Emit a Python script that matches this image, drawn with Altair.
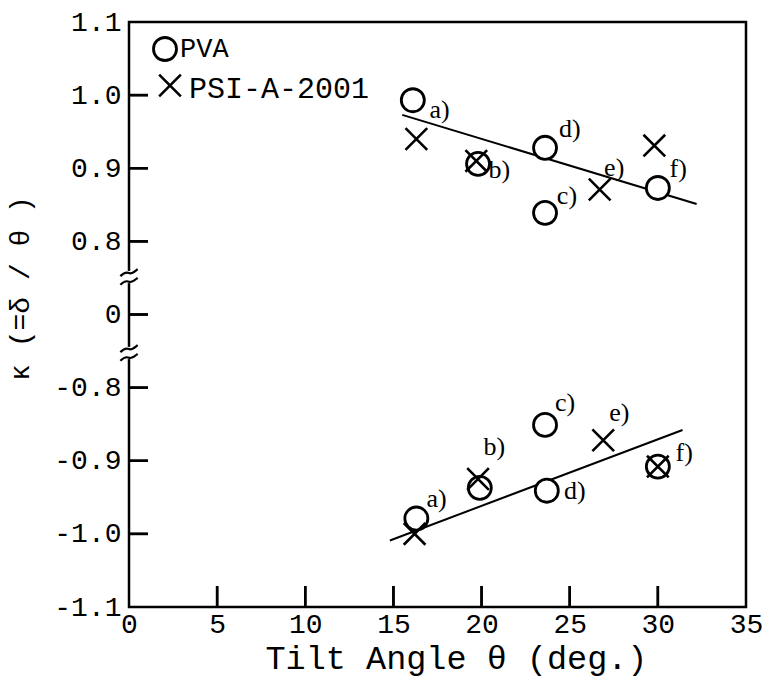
import altair as alt
import pandas as pd

# ---------------- data ----------------
# upper branch (kappa > 0)
pva_up_x = [16.1, 19.8, 23.6, 23.6, 30.0]
pva_up_k = [0.993, 0.906, 0.839, 0.928, 0.873]
psi_up_x = [16.3, 19.7, 26.7, 29.8]
psi_up_k = [0.940, 0.910, 0.871, 0.931]
# lower branch (kappa < 0)
pva_lo_x = [16.3, 19.9, 23.6, 23.7, 30.0]
pva_lo_k = [-0.979, -0.937, -0.851, -0.941, -0.908]
psi_lo_x = [16.2, 19.8, 26.9, 30.0]
psi_lo_k = [-1.0, -0.925, -0.872, -0.908]

# fitted straight lines
fit_up_x = [15.5, 32.2]
fit_up_k = [0.973, 0.851]
fit_lo_x = [14.8, 31.4]
fit_lo_k = [-1.009, -0.858]

# point annotations
label_text = ["a)", "b)", "c)", "d)", "e)", "f)"]
label_up_x = [17.04, 20.4, 24.27, 24.39, 26.95, 30.66]
label_up_k = [0.979, 0.898, 0.862, 0.953, 0.900, 0.899]
label_lo_x = [16.87, 20.11, 24.16, 24.67, 27.24, 31.0]
label_lo_k = [-0.952, -0.881, -0.821, -0.941, -0.835, -0.889]

# axes
x_ticks = [0, 5, 10, 15, 20, 25, 30, 35]
y_tick_values = [-1.1, -1.0, -0.9, -0.8, 0.0, 0.8, 0.9, 1.0, 1.1]
y_tick_labels = ["-1.1", "-1.0", "-0.9", "-0.8", "0", "0.8", "0.9", "1.0", "1.1"]
legend_labels = ["PVA", "PSI-A-2001"]

x_title = "Tilt Angle θ (deg.)"
y_title = "κ (=δ / θ )"

# ---------------- chart ----------------
W, H = 617, 585
MONO = "Liberation Mono"
SERIF = "Liberation Serif"

# broken y axis: value -> slot position
POS = ("datum.k >= 0.5 ? (datum.k - 0.8) * 10 + 5 : "
       "(datum.k <= -0.5 ? (datum.k + 1.1) * 10 : 4 + datum.k)")

label_expr = "[" + ",".join("'%s'" % s for s in y_tick_labels) + "][datum.value]"

xscale = alt.Scale(domain=[0, 35], nice=False, zero=False)
yscale = alt.Scale(domain=[0, 8], nice=False, zero=False)

X = alt.X("x:Q", scale=xscale,
          axis=alt.Axis(values=x_ticks, title=x_title, labelPadding=3,
                        labelFlush=False, titleX=327, titleY=61,
                        titleBaseline="alphabetic", titleFontSize=33.5))
Y = alt.Y("pos:Q", scale=yscale,
          axis=alt.Axis(values=list(range(9)), labelExpr=label_expr,
                        title=y_title, labelPadding=8, labelFlush=False,
                        titleAngle=270, titleX=-109, titleY=266,
                        titleAlign="center", titleBaseline="middle",
                        titleFontSize=28))


def frame(xs, ks, **extra):
    d = {"x": xs, "k": ks}
    d.update(extra)
    return pd.DataFrame(d)


def seg(xs, ks):
    return (alt.Chart(frame(xs, ks)).transform_calculate(pos=POS)
            .mark_line(color="black", strokeWidth=2)
            .encode(x=X, y=Y))


lines = seg(fit_up_x, fit_up_k) + seg(fit_lo_x, fit_lo_k)

# ---- inward tick marks (centre of each tick given in scale units) ----
YT_HALF = 0.54    # half of a y tick's length, x units (~9.5 px)
XT_HALF = 0.144   # half of an x tick's length, y slots (~10.5 px)
inner_y = y_tick_values[1:-1]
inner_x = x_ticks[1:-1]

ytick_data = frame([YT_HALF] * len(inner_y), inner_y)
xtick_data = pd.DataFrame({"x": [float(v) for v in inner_x],
                           "pos": [XT_HALF] * len(inner_x)})

# drawn as short line symbols ...
yticks_a = (alt.Chart(ytick_data).transform_calculate(pos=POS)
            .mark_point(shape="M-1,0L1,0", filled=False, stroke="black",
                        strokeWidth=2.5, size=361, opacity=1)
            .encode(x=X, y=Y))
xticks_a = (alt.Chart(xtick_data)
            .mark_point(shape="M0,-1L0,1", filled=False, stroke="black",
                        strokeWidth=2.5, size=441, opacity=1)
            .encode(x=X, y=Y))
# ... and as tick marks at the same places
yticks_b = (alt.Chart(ytick_data).transform_calculate(pos=POS)
            .mark_tick(orient="horizontal", size=19, thickness=2.5,
                       color="black", opacity=1)
            .encode(x=X, y=Y))
xticks_b = (alt.Chart(xtick_data)
            .mark_tick(orient="vertical", size=21, thickness=2.5,
                       color="black", opacity=1)
            .encode(x=X, y=Y))

circle_style = dict(shape="circle", filled=True, fill="white", stroke="black",
                    strokeWidth=2.8, size=530, opacity=1)
cross_path = "M-1,-1L1,1M-1,1L1,-1"
cross_style = dict(shape=cross_path, filled=False, stroke="black",
                   strokeWidth=2.6, size=470, opacity=1)

pva = (alt.Chart(frame(pva_up_x + pva_lo_x, pva_up_k + pva_lo_k))
       .transform_calculate(pos=POS)
       .mark_point(**circle_style).encode(x=X, y=Y))
psi = (alt.Chart(frame(psi_up_x + psi_lo_x, psi_up_k + psi_lo_k))
       .transform_calculate(pos=POS)
       .mark_point(**cross_style).encode(x=X, y=Y))

labels = (alt.Chart(frame(label_up_x + label_lo_x, label_up_k + label_lo_k,
                          t=label_text + label_text))
          .transform_calculate(pos=POS)
          .mark_text(font=SERIF, fontSize=26, align="left", baseline="middle",
                     color="black")
          .encode(x=X, y=Y, text="t:N"))

# axis break symbols
squig_path = ("M-1,-0.1 C-0.6,-0.5 -0.3,-0.6 0,-0.45 C0.3,-0.3 0.6,-0.6 1,-0.9 "
              "M-1,0.9 C-0.6,0.5 -0.3,0.4 0,0.55 C0.3,0.7 0.6,0.4 1,0.1")
break_df = pd.DataFrame({"b": ["break"]})


def axis_break(ypix):
    cover = (alt.Chart(break_df)
             .mark_point(shape="square", filled=True, fill="white",
                         strokeWidth=0, size=150, opacity=1)
             .encode(x=alt.value(0), y=alt.value(ypix)))
    squig = (alt.Chart(break_df)
             .mark_point(shape=squig_path, filled=False, stroke="black",
                         strokeWidth=2.2, size=300, opacity=1)
             .encode(x=alt.value(0), y=alt.value(ypix)))
    return cover + squig


breaks = axis_break(255) + axis_break(331)

# legend (drawn inside the plot, top-left)
leg_df = pd.DataFrame({"t": legend_labels})
leg_circle = (alt.Chart(leg_df.iloc[[0]]).mark_point(**circle_style)
              .encode(x=alt.value(36), y=alt.value(27)))
leg_cross = (alt.Chart(leg_df.iloc[[1]]).mark_point(**cross_style)
             .encode(x=alt.value(41), y=alt.value(63.5)))
leg_t1 = (alt.Chart(leg_df.iloc[[0]])
          .mark_text(font=MONO, fontSize=27, align="left", baseline="alphabetic",
                     color="black")
          .encode(x=alt.value(51), y=alt.value(35), text="t:N"))
leg_t2 = (alt.Chart(leg_df.iloc[[1]])
          .mark_text(font=MONO, fontSize=30, align="left", baseline="alphabetic",
                     color="black")
          .encode(x=alt.value(60), y=alt.value(76), text="t:N"))

chart = (alt.layer(lines, pva, psi, labels, yticks_a, xticks_a, yticks_b,
                   xticks_b, breaks, leg_circle, leg_cross, leg_t1, leg_t2)
         .properties(width=W, height=H, autosize=alt.AutoSizeParams(type="none"),
                     padding={"left": 129, "top": 22, "right": 23, "bottom": 82},
                     background="white")
         .configure_view(stroke="black", strokeWidth=2.5)
         .configure_axis(labelFont=MONO, titleFont=MONO, labelFontSize=28,
                         labelColor="black", titleColor="black",
                         titleFontWeight="normal", domain=False, ticks=False,
                         grid=False))

chart.save("out.html", embed_options={"renderer": "svg", "actions": False})
